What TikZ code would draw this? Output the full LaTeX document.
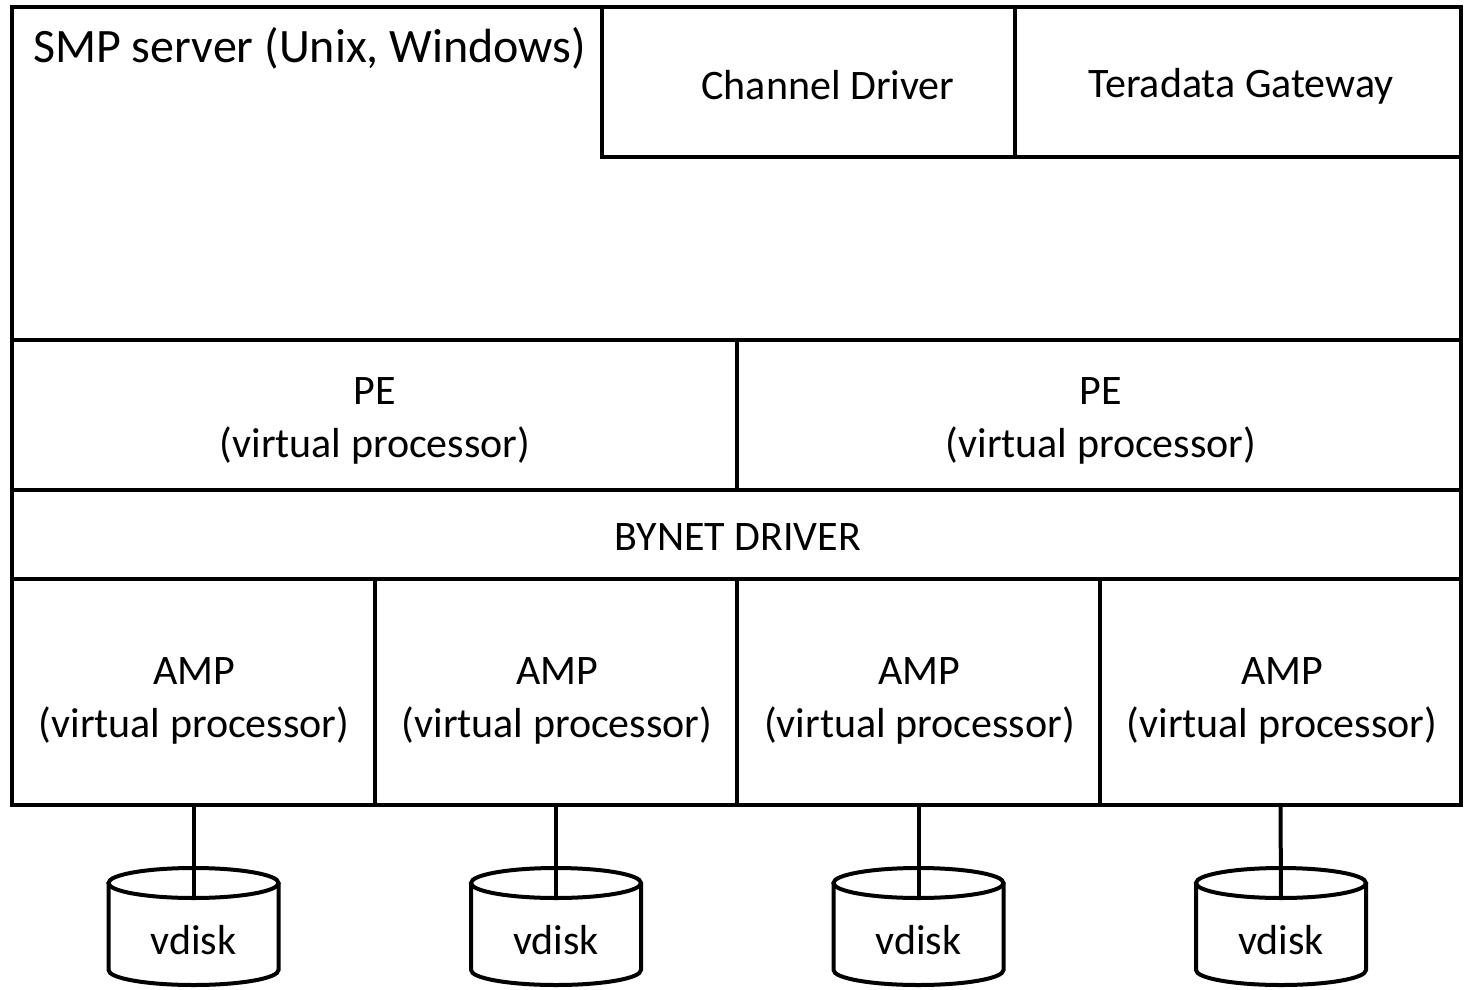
\documentclass[tikz,border=0pt]{standalone}
\usepackage{fontspec}
\setmainfont{Carlito}
\begin{document}
\begin{tikzpicture}[x=1pt,y=1pt,
  lw/.style={line width=4pt},
  box/.style={draw, lw, rectangle, inner sep=0pt, outer sep=0pt},
  lbl/.style={inner sep=0pt, align=center, font=\fontsize{42}{53}\selectfont},
  disk/.style={draw, lw, fill=white}]
\useasboundingbox (0,0) rectangle (1464,-990);
% SMP server
\node[box, minimum width=1449, minimum height=333] (smp) at (736.5,-173.5) {};
\node[lbl, anchor=west, font=\fontsize{48}{58}\selectfont] (smplabel) at (33,-48) {SMP server (Unix, Windows)};
\node[box, minimum width=413, minimum height=150] (chan) at (808.5,-82) {};
\node[lbl] (chant) at (828,-85) {Channel Driver};
\node[box, minimum width=446, minimum height=150] (gate) at (1238,-82) {};
\node[lbl] (gatet) at (1241,-86) {Teradata Gateway};
% PEs
\node[box, minimum width=725, minimum height=150] (pe1) at (374.5,-415) {};
\node[lbl] (pe1t) at (375,-421) {PE\\(virtual processor)};
\node[box, minimum width=724, minimum height=150] (pe2) at (1099,-415) {};
\node[lbl] (pe2t) at (1101,-421) {PE\\(virtual processor)};
% BYNET
\node[box, minimum width=1449, minimum height=89] (bynet) at (736.5,-534.5) {};
\node[lbl] (bynett) at (738,-537) {BYNET DRIVER};
% AMPs
\node[box, minimum width=363, minimum height=226] (amp1) at (193.5,-692) {};
\node[box, minimum width=362, minimum height=226] (amp2) at (556,-692) {};
\node[box, minimum width=363, minimum height=226] (amp3) at (918.5,-692) {};
\node[box, minimum width=361, minimum height=226] (amp4) at (1280.5,-692) {};
\foreach \i/\x in {1/194, 2/557, 3/919.5, 4/1282}{
  \node[lbl] (amp\i t) at (\x,-701) {AMP\\(virtual processor)};
}
% vdisks
\foreach \i/\x in {1/193.5, 2/556, 3/918.5, 4/1281}{
  \draw[disk] (\x-85,-883) -- (\x-85,-970) arc[start angle=180, end angle=360, x radius=85, y radius=15]
     -- (\x+85,-883);
  \draw[disk] (\x,-883) ellipse[x radius=85, y radius=15];
  \coordinate (t\i) at (\x,-898);
  \node[lbl] (vd\i) at (\x,-940) {vdisk};
}
\draw[lw] (amp1.south) -- (t1);
\draw[lw] (amp2.south) -- (t2);
\draw[lw] (amp3.south) -- (t3);
\draw[lw] (amp4.south) -- (t4);
\end{tikzpicture}
\end{document}
